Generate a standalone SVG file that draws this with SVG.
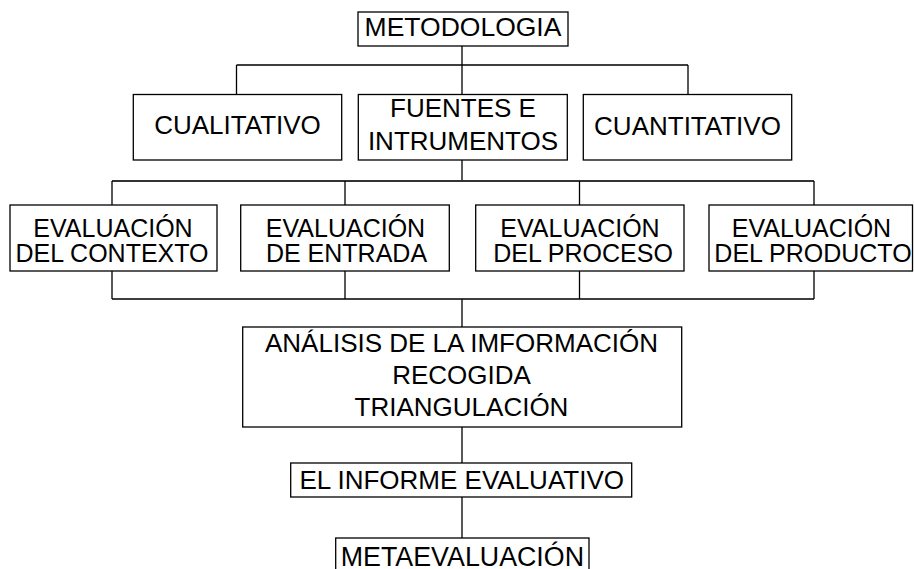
<svg xmlns="http://www.w3.org/2000/svg" width="914" height="569" viewBox="0 0 914 569">
<style>
.box{fill:#fff;stroke:#000;stroke-width:1.3}
.t{font-family:"Liberation Sans",Arial,sans-serif;font-size:26px;fill:#000;text-anchor:middle}
.t3{font-size:25px}
.c{fill:none;stroke:#000;stroke-width:1.3}
.c2{fill:none;stroke:#333;stroke-width:2}
</style>
<rect width="914" height="569" fill="#fff"/>
<g id="connectors">
<path class="c" d="M462 46V65M236.5 65H688M236.5 65V94.5M462 65V94.5M688 65V94.5"/>
<path class="c" d="M462 160V181"/>
<path class="c2" d="M112 181H814"/>
<path class="c" d="M112 181V205M345 181V205M579.5 181V205M814 181V205"/>
<path class="c" d="M112 271V299M345 271V299M579.5 271V299M814 271V299M112 299H814M462 299V327"/>
<path class="c" d="M462 427V463M462 497V538"/>
</g>
<g id="metodologia"><rect class="box" x="358" y="12" width="210" height="34"/><text class="t" x="463" y="36" style="font-size:26.5px">METODOLOGIA</text></g>
<g id="cualitativo"><rect class="box" x="133.3" y="94.5" width="208.4" height="65.5"/><text class="t" x="237.5" y="134">CUALITATIVO</text></g>
<g id="fuentes"><rect class="box" x="358.3" y="94.5" width="209" height="65.5"/><text class="t" x="463" y="117.3">FUENTES E</text><text class="t" x="463" y="150">INTRUMENTOS</text></g>
<g id="cuantitativo"><rect class="box" x="583.3" y="94.5" width="208.4" height="65.5"/><text class="t" x="687.5" y="135">CUANTITATIVO</text></g>
<g id="contexto"><rect class="box" x="10" y="205" width="207" height="66"/><text class="t t3" x="113" y="237">EVALUACIÓN</text><text class="t t3" x="112" y="262">DEL CONTEXTO</text></g>
<g id="entrada"><rect class="box" x="240.7" y="205" width="208.6" height="66"/><text class="t t3" x="345.5" y="237">EVALUACIÓN</text><text class="t t3" x="346.5" y="262">DE ENTRADA</text></g>
<g id="proceso"><rect class="box" x="475.7" y="205" width="208.3" height="66"/><text class="t t3" x="580" y="237">EVALUACIÓN</text><text class="t t3" x="583" y="262">DEL PROCESO</text></g>
<g id="producto"><rect class="box" x="709" y="205" width="203.5" height="66"/><text class="t t3" x="811.5" y="237">EVALUACIÓN</text><text class="t t3" x="813" y="262">DEL PRODUCTO</text></g>
<g id="analisis"><rect class="box" x="242.7" y="327" width="439" height="100"/><text class="t" x="461.5" y="351.7">ANÁLISIS DE LA IMFORMACIÓN</text><text class="t" x="461.5" y="384">RECOGIDA</text><text class="t" x="461.5" y="416">TRIANGULACIÓN</text></g>
<g id="informe"><rect class="box" x="290.7" y="463" width="341" height="34"/><text class="t" x="461.7" y="489.3">EL INFORME EVALUATIVO</text></g>
<g id="metaevaluacion"><rect class="box" x="335.7" y="538" width="253.3" height="40"/><text class="t" x="462.4" y="566" style="font-size:26.8px">METAEVALUACIÓN</text></g>
</svg>
